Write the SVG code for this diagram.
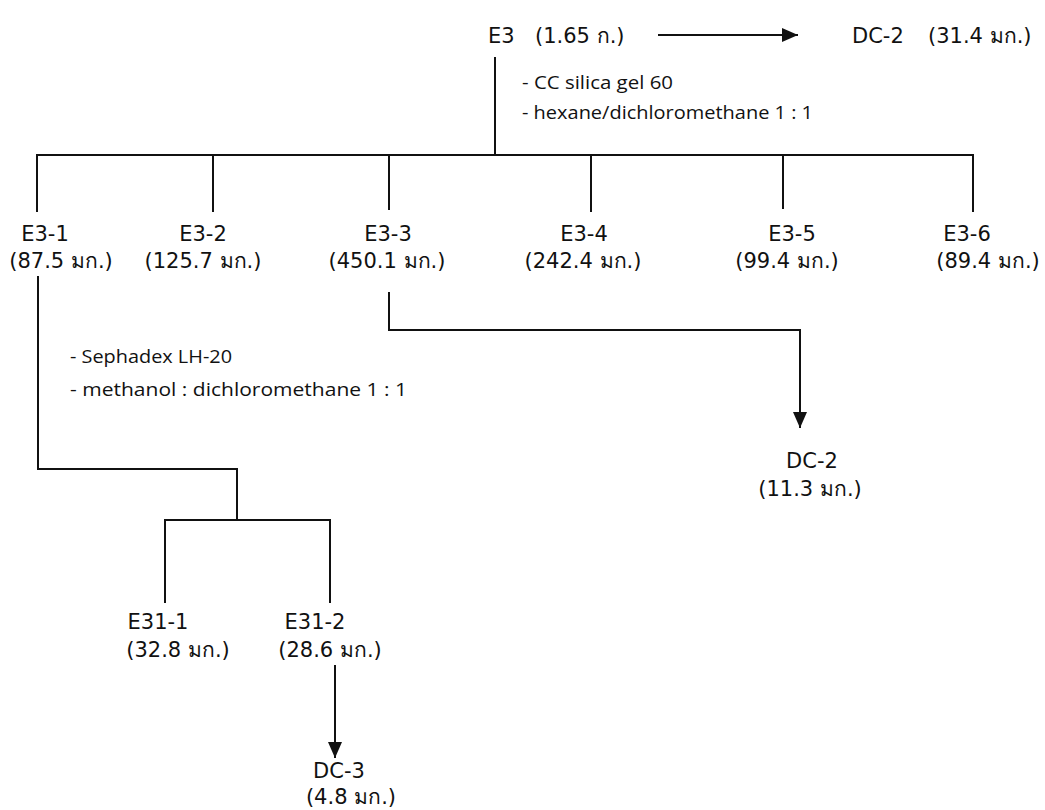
<svg xmlns="http://www.w3.org/2000/svg" width="1045" height="810" viewBox="0 0 1045 810">
<style>
.t{font-family:"DejaVu Sans","Noto Sans",sans-serif;font-size:21px;fill:#111;text-anchor:middle}
.s{font-family:"DejaVu Sans","Noto Sans",sans-serif;font-size:21px;fill:#111}
.n{font-family:"Open Sans","Noto Sans",sans-serif;font-size:18px;fill:#111}
.l{stroke:#111;stroke-width:2;fill:none}
</style>
<defs>
<marker id="ah" markerWidth="16" markerHeight="14" refX="16" refY="7" orient="auto" markerUnits="userSpaceOnUse">
<path d="M0,0 L16,7 L0,14 Z" fill="#111"/>
</marker>
</defs>
<rect width="1045" height="810" fill="#fff"/>
<g id="connectors">
<line class="l" x1="658" y1="35" x2="798" y2="35" marker-end="url(#ah)"/>
<polyline class="l" points="495,57 495,155"/>
<polyline class="l" points="37,212 37,155 973,155 973,212"/>
<line class="l" x1="213" y1="155" x2="213" y2="212"/>
<line class="l" x1="389" y1="155" x2="389" y2="210"/>
<line class="l" x1="591" y1="155" x2="591" y2="212"/>
<line class="l" x1="783" y1="155" x2="783" y2="209"/>
<polyline class="l" points="389,292 389,330 800,330 800,428" marker-end="url(#ah)"/>
<polyline class="l" points="38,276 38,469 237,469 237,520"/>
<polyline class="l" points="165,603 165,520 330,520 330,603"/>
<line class="l" x1="335" y1="665" x2="335" y2="758" marker-end="url(#ah)"/>
</g>
<g id="E3"><text class="s" x="488" y="43">E3</text><text class="s" x="535" y="43">(1.65 ก.)</text></g>
<g id="DC-2-top"><text class="s" x="852" y="43">DC-2</text><text class="s" x="928" y="43">(31.4 มก.)</text></g>
<g id="note1">
<text class="n" x="522" y="89" textLength="151" lengthAdjust="spacingAndGlyphs">- CC silica gel 60</text>
<text class="n" x="522" y="119" textLength="291" lengthAdjust="spacingAndGlyphs">- hexane/dichloromethane 1 : 1</text>
</g>
<g id="E3-1"><text class="t" x="45" y="241">E3-1</text><text class="t" x="61" y="268">(87.5 มก.)</text></g>
<g id="E3-2"><text class="t" x="203" y="241">E3-2</text><text class="t" x="203" y="268">(125.7 มก.)</text></g>
<g id="E3-3"><text class="t" x="388" y="241">E3-3</text><text class="t" x="387" y="268">(450.1 มก.)</text></g>
<g id="E3-4"><text class="t" x="584" y="241">E3-4</text><text class="t" x="583" y="268">(242.4 มก.)</text></g>
<g id="E3-5"><text class="t" x="792" y="241">E3-5</text><text class="t" x="787" y="268">(99.4 มก.)</text></g>
<g id="E3-6"><text class="t" x="967" y="241">E3-6</text><text class="t" x="988" y="268">(89.4 มก.)</text></g>
<g id="note2">
<text class="n" x="70" y="363" textLength="162" lengthAdjust="spacingAndGlyphs">- Sephadex LH-20</text>
<text class="n" x="70" y="396" textLength="337" lengthAdjust="spacingAndGlyphs">-  methanol : dichloromethane  1 : 1</text>
</g>
<g id="DC-2"><text class="t" x="812" y="468">DC-2</text><text class="t" x="810" y="496">(11.3 มก.)</text></g>
<g id="E31-1"><text class="t" x="158" y="629">E31-1</text><text class="t" x="178" y="657">(32.8 มก.)</text></g>
<g id="E31-2"><text class="t" x="315" y="629">E31-2</text><text class="t" x="330" y="657">(28.6 มก.)</text></g>
<g id="DC-3"><text class="t" x="339" y="778">DC-3</text><text class="t" x="351" y="804">(4.8 มก.)</text></g>
</svg>
